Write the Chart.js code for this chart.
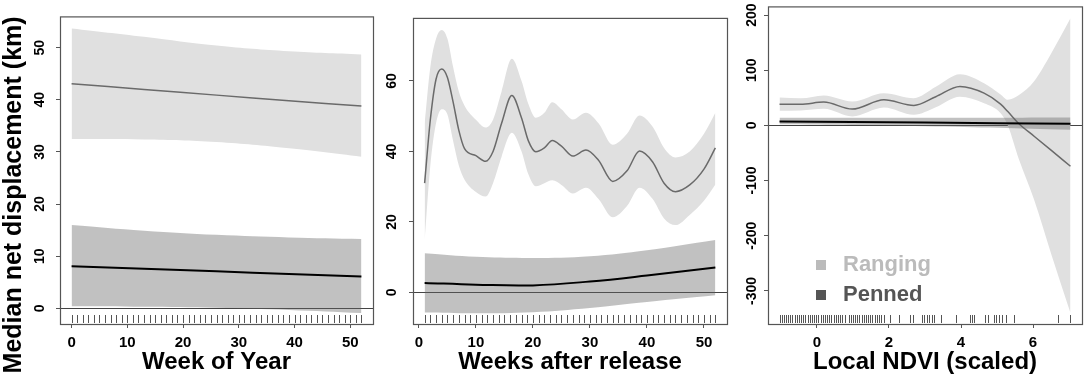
<!DOCTYPE html>
<html>
<head>
<meta charset="utf-8">
<script src="https://cdn.jsdelivr.net/npm/chart.js@4.4.1/dist/chart.umd.min.js"></script>
<style>
html, body { margin: 0; padding: 0; background: #fff; }
#wrap { position: relative; width: 1084px; height: 378px; }
canvas { position: absolute; top: 0; }
</style>
</head>
<body>
<div id="wrap">
<canvas id="c1" width="380" height="378" style="left:0px"></canvas>
<canvas id="c2" width="350" height="378" style="left:380px"></canvas>
<canvas id="c3" width="354" height="378" style="left:730px"></canvas>
</div>
<script>
var groups = ['Ranging', 'Penned'];
var yTitle = 'Median net displacement (km)';

// panel 1 - week of year
var woyX = [0, 13, 26, 39, 52];
var woyRangFit = [43.1, 42.0, 40.9, 39.8, 38.8];
var woyRangHi = [53.7, 52.1, 50.4, 49.3, 48.7];
var woyRangLo = [32.5, 32.4, 31.9, 30.7, 29.1];
var woyPenFit = [8.1, 7.6, 7.1, 6.6, 6.1];
var woyPenHi = [16.0, 14.9, 14.1, 13.6, 13.3];
var woyPenLo = [0.4, 0.3, 0.1, -0.3, -0.9];
var woyRug = [0,1,2,3,4,5,6,7,8,9,10,11,12,13,14,15,16,17,18,19,20,21,22,23,24,25,26,
  27,28,29,30,31,32,33,34,35,36,37,38,39,40,41,42,43,44,45,46,47,48,49,50,51,52];
var woyXTicks = [0, 10, 20, 30, 40, 50];
var woyYTicks = [0, 10, 20, 30, 40, 50];

// panel 2 - weeks after release
var relX = [1, 2, 3, 4, 5, 6, 7, 8, 10, 11.7, 13, 14.5, 16.3, 18, 19.2, 20.5, 22, 23.4, 25, 27,
  29.3, 31.5, 34, 36.5, 38.7, 41, 43, 45, 47.5, 50, 52];
var relRangFit = [31, 49, 60.5, 63.4, 61, 54, 46, 40.8, 38.8, 37.2, 40, 48, 55.9, 49.5, 43, 39.9,
  41, 43.1, 41.5, 38.7, 40.4, 37.5, 31.5, 34.5, 40.1, 37, 31, 28.6, 30.5, 35, 41];
var relRangHi = [48, 64, 72, 74.5, 72, 64, 57, 53, 49, 46.8, 49, 57, 66.3, 60, 53.5, 49.6,
  51, 54, 52, 49.1, 51, 48, 41.9, 45, 50.2, 47, 41, 38.3, 40, 45, 51];
var relRangLo = [14.7, 36, 48, 52, 50.5, 43, 36, 32, 28.5, 27.2, 31, 38.5, 45.3, 40, 33.5, 30.1,
  31, 31.8, 30.5, 28.1, 29.7, 26.5, 21.3, 24.5, 29.7, 26.5, 21, 19.1, 22, 26, 30.6];
var relPenX = [1, 10, 20, 30, 40, 52];
var relPenFit = [2.7, 2.2, 2.0, 3.1, 4.8, 7.1];
var relPenHi = [11.1, 10.1, 9.8, 10.3, 12.0, 14.9];
var relPenLo = [-5.7, -5.9, -5.6, -4.4, -2.7, -0.8];
var relRug = [1,2,3,4,5,6,7,8,9,10,11,12,13,14,15,16,17,18,19,20,21,22,23,24,25,26,
  27,28,29,30,31,32,33,34,35,36,37,38,39,40,41,42,43,44,45,46,47,48,49,50,51,52];
var relXTicks = [0, 10, 20, 30, 40, 50];
var relYTicks = [0, 20, 40, 60];

// panel 3 - local NDVI (scaled)
var ndviX = [-1.04, -0.45, 0.19, 0.98, 1.86, 2.69, 3.3, 3.97, 4.64, 5.1, 5.3, 5.61, 6.03, 6.5, 7.04];
var ndviRangFit = [38.5, 38.5, 42.2, 29.5, 46.4, 36.2, 52, 70.5, 58.4, 38.5, 25, 3, -19.6, -44.9, -74];
var ndviRangHi = [50.6, 49, 54.2, 43.4, 58.4, 49.4, 70, 92.8, 76.5, 56, 46.4, 55, 80, 130, 194];
var ndviRangLo = [26.5, 27, 30.2, 16.3, 32.5, 19.3, 33, 52, 40, 22, 0, -62, -135, -232, -340];
var ndviPenX = [-1.04, 3, 7.04];
var ndviPenFit = [7.2, 5.2, 3.0];
var ndviPenHi = [14.0, 13.8, 14.5];
var ndviPenLo = [2.0, -1.5, -7.8];
var ndviRug = [-1.04,-0.98,-0.92,-0.86,-0.8,-0.74,-0.68,-0.62,-0.56,-0.5,-0.44,-0.38,-0.32,-0.26,
  -0.2,-0.14,-0.08,-0.02,0.04,0.1,0.16,0.22,0.28,0.34,0.4,0.46,0.52,0.58,0.64,0.7,0.79,
  0.88,0.94,1.0,1.06,1.12,1.18,1.24,1.3,1.36,1.42,1.48,1.54,1.6,1.66,1.72,1.78,1.85,
  2.02,2.27,2.59,2.67,2.93,2.98,3.06,3.12,3.19,3.26,3.45,3.87,4.26,4.3,4.35,4.68,4.75,
  4.93,4.98,5.06,5.14,5.25,5.48,6.68,7.02];
var ndviXTicks = [0, 2, 4, 6];
var ndviYTicks = [-300, -200, -100, 0, 100, 200];

Chart.defaults.font.family = '"Liberation Sans", Arial, sans-serif';
Chart.defaults.font.weight = 'bold';
Chart.defaults.color = '#000';

var RANG_BAND = '#e0e0e0', RANG_LINE = '#6a6a6a';
var PEN_BAND = 'rgba(100,100,100,0.4)', PEN_LINE = '#000000';

function pts(xs, ys) {
  return xs.map(function(x, i) { return {x: x, y: ys[i]}; });
}

// fit line + upper/lower band; smooth is 'monotone' or 'default' (tension spline)
function bandSets(label, xs, fit, hi, lo, lineCol, lineW, bandCol, smooth) {
  var curve = {cubicInterpolationMode: smooth, tension: 0.4, pointRadius: 0};
  return [
    Object.assign({label: label, data: pts(xs, fit), borderColor: lineCol, borderWidth: lineW, fill: false}, curve),
    Object.assign({label: label + ' upper', data: pts(xs, hi), borderColor: 'rgba(0,0,0,0)', borderWidth: 0,
      backgroundColor: bandCol, fill: '+1'}, curve),
    Object.assign({label: label + ' lower', data: pts(xs, lo), borderColor: 'rgba(0,0,0,0)', borderWidth: 0,
      fill: false}, curve)
  ];
}

var rugPlugin = {
  id: 'rug',
  afterDatasetsDraw: function(chart, args, opts) {
    var sx = chart.scales.x, a = chart.chartArea, ctx = chart.ctx;
    ctx.save();
    ctx.strokeStyle = opts.color;
    ctx.lineWidth = 1;
    ctx.beginPath();
    opts.values.forEach(function(v) {
      var px = Math.round(sx.getPixelForValue(v)) + 0.5;
      ctx.moveTo(px, a.bottom - 9);
      ctx.lineTo(px, a.bottom - 1);
    });
    ctx.stroke();
    ctx.restore();
  }
};

var boxPlugin = {
  id: 'box',
  afterDraw: function(chart) {
    var a = chart.chartArea, ctx = chart.ctx;
    ctx.save();
    ctx.strokeStyle = '#555';
    ctx.lineWidth = 1.2;
    ctx.strokeRect(a.left + 0.5, a.top + 0.5, a.right - a.left, a.bottom - a.top);
    ctx.restore();
  }
};

var legendPlugin = {
  id: 'groupLegend',
  afterDraw: function(chart, args, opts) {
    if (!opts.items) return;
    var a = chart.chartArea, ctx = chart.ctx;
    ctx.save();
    ctx.font = 'bold 22px "Liberation Sans", Arial, sans-serif';
    ctx.textBaseline = 'middle';
    opts.items.forEach(function(it, i) {
      var y = a.bottom - 59 + i * 30;
      ctx.fillStyle = it.color;
      ctx.fillRect(a.left + 48, y - 5, 10, 10);
      ctx.fillText(it.text, a.left + 75, y);
    });
    ctx.restore();
  }
};

function makeChart(id, p) {
  var ds = bandSets(groups[1], p.penX, p.penFit, p.penHi, p.penLo, PEN_LINE, 2, PEN_BAND, 'default')
    .concat(bandSets(groups[0], p.rangX, p.rangFit, p.rangHi, p.rangLo, RANG_LINE, 1.5, RANG_BAND, p.rangSmooth));
  return new Chart(document.getElementById(id), {
    type: 'line',
    data: {datasets: ds},
    options: {
      responsive: false,
      animation: false,
      devicePixelRatio: 1,
      layout: {padding: {top: 4, right: p.padRight, left: 0, bottom: 0}},
      plugins: {
        legend: {display: false},
        tooltip: {enabled: false},
        rug: {values: p.rug, color: '#555'},
        groupLegend: {items: p.legend}
      },
      scales: {
        x: {
          type: 'linear', min: p.xMin, max: p.xMax,
          afterBuildTicks: function(s) { s.ticks = p.xTicks.map(function(v) { return {value: v}; }); },
          afterFit: function(s) { s.height = 54; },
          grid: {drawOnChartArea: false, tickLength: 4, tickColor: '#555'},
          border: {display: false},
          ticks: {font: {size: 15, weight: 'bold'}, padding: 6, color: '#000', maxRotation: 0},
          title: {display: true, text: p.xTitle, color: '#000',
                  font: {size: 24, weight: 'bold', lineHeight: 1}, padding: {top: 0, bottom: 4}}
        },
        y: {
          type: 'linear', min: p.yMin, max: p.yMax, z: 1,
          afterBuildTicks: function(s) { s.ticks = p.yTicks.map(function(v) { return {value: v}; }); },
          afterFit: function(s) { s.width = p.yWidth; },
          grid: {
            color: function(c) { return c.tick && c.tick.value === 0 ? '#444' : 'rgba(0,0,0,0)'; },
            tickColor: '#555', tickLength: 4, lineWidth: 1
          },
          border: {display: false},
          ticks: {font: {size: 14, weight: 'bold'}, color: '#000', minRotation: 90, maxRotation: 90,
                  crossAlign: 'center', padding: p.yPad},
          title: {display: !!p.yTitle, text: p.yTitle || '', align: 'end', color: '#000',
                  font: {size: 25, weight: 'bold', lineHeight: 1}, padding: {top: 2, bottom: 0}}
        }
      }
    },
    plugins: [rugPlugin, boxPlugin, legendPlugin]
  });
}

makeChart('c1', {
  rangX: woyX, rangFit: woyRangFit, rangHi: woyRangHi, rangLo: woyRangLo, rangSmooth: 'default',
  penX: woyX, penFit: woyPenFit, penHi: woyPenHi, penLo: woyPenLo,
  rug: woyRug, xTicks: woyXTicks, yTicks: woyYTicks,
  xMin: -2.08, xMax: 54.08, yMin: -3.0, yMax: 56.0,
  xTitle: 'Week of Year', yTitle: yTitle, yWidth: 60, yPad: 8, padRight: 7
});

makeChart('c2', {
  rangX: relX, rangFit: relRangFit, rangHi: relRangHi, rangLo: relRangLo, rangSmooth: 'monotone',
  penX: relPenX, penFit: relPenFit, penHi: relPenHi, penLo: relPenLo,
  rug: relRug, xTicks: relXTicks, yTicks: relYTicks,
  xMin: -1.04, xMax: 54.04, yMin: -8.96, yMax: 77.9,
  xTitle: 'Weeks after release', yWidth: 33, yPad: 9.5, padRight: 3
});

makeChart('c3', {
  rangX: ndviX, rangFit: ndviRangFit, rangHi: ndviRangHi, rangLo: ndviRangLo, rangSmooth: 'monotone',
  penX: ndviPenX, penFit: ndviPenFit, penHi: ndviPenHi, penLo: ndviPenLo,
  rug: ndviRug, xTicks: ndviXTicks, yTicks: ndviYTicks,
  xMin: -1.36, xMax: 7.36, yMin: -360, yMax: 215.7,
  xTitle: 'Local NDVI (scaled)', yWidth: 38, yPad: -2, padRight: 2,
  legend: [{text: groups[0], color: '#bbbbbb'}, {text: groups[1], color: '#555555'}]
});
</script>
</body>
</html>
